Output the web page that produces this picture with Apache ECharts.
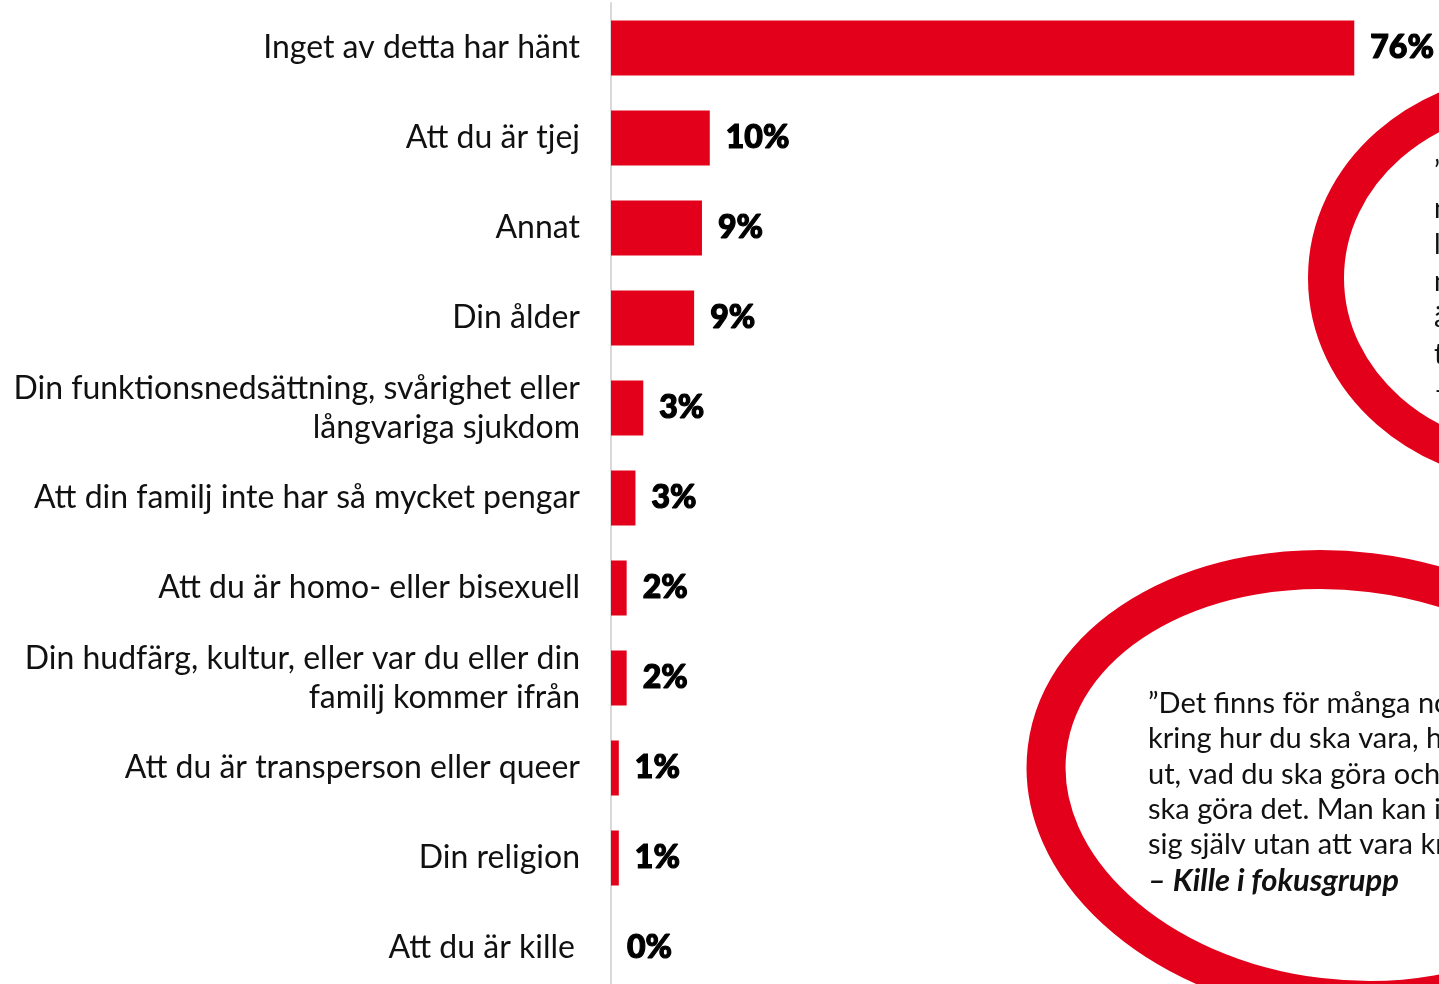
<!DOCTYPE html>
<html lang="sv">
<head>
    <meta charset="UTF-8">
    <title>Diskriminering</title>
    <script src="https://cdn.jsdelivr.net/npm/echarts@6/dist/echarts.min.js"></script>
    <style>
        html, body { margin: 0; padding: 0; background: #fff; }
        #chart { width: 1439px; height: 984px; }
    </style>
</head>
<body>
    <div id="chart"></div>
    <script>
        // data (top to bottom)
        var categories = [
            'Inget av detta har hänt',
            'Att du är tjej',
            'Annat',
            'Din ålder',
            'Din funktionsnedsättning, svårighet eller\nlångvariga sjukdom',
            'Att din familj inte har så mycket pengar',
            'Att du är homo- eller bisexuell',
            'Din hudfärg, kultur, eller var du eller din\nfamilj kommer ifrån',
            'Att du är transperson eller queer',
            'Din religion',
            'Att du är kille'
        ];
        var values = [76, 10.1, 9.3, 8.5, 3.3, 2.5, 1.6, 1.6, 0.8, 0.8, 0];
        var labels = ['76%', '10%', '9%', '9%', '3%', '3%', '2%', '2%', '1%', '1%', '0%'];

        var quoteLines = [
            '”Det finns för många normer',
            'kring hur du ska vara, hur du ska se',
            'ut, vad du ska göra och hur du',
            'ska göra det. Man kan inte vara',
            'sig själv utan att vara kritiserad.”'
        ];
        var quoteBy = '– Kille i fokusgrupp';
        var topQuoteLines = ['”', 'n', 'l', 'n', 'ä', 't', '–'];

        var red = '#e3001b';
        var chart = echarts.init(document.getElementById('chart'));

        var graphics = [
            {
                type: 'ellipse', z: 0,
                shape: { cx: 1540, cy: 278, rx: 214, ry: 188 },
                style: { fill: 'none', stroke: red, lineWidth: 36 }
            },
            {
                type: 'ellipse', z: 0,
                shape: { cx: 0, cy: 0, rx: 300, ry: 214 },
                x: 1345, y: 785, rotation: -0.12,
                style: { fill: 'none', stroke: red, lineWidth: 39 }
            }
        ];
        quoteLines.forEach(function (t, i) {
            graphics.push({
                type: 'text', z: 5, left: 1148, top: 689 + i * 35.4,
                style: { text: t, font: '29px Lato', fill: '#111' }
            });
        });
        graphics.push({
            type: 'text', z: 5, left: 1148, top: 865,
            style: { text: quoteBy, font: 'italic bold 31px Lato', fill: '#111' }
        });
        topQuoteLines.forEach(function (t, i) {
            graphics.push({
                type: 'text', z: 5, left: 1434, top: 158 + i * 36.5,
                style: { text: t, font: '28px Lato', fill: '#111' }
            });
        });

        chart.setOption({
            animation: false,
            grid: { left: 611, top: 3, width: 978, height: 990, outerBoundsMode: 'none', containLabel: false },
            xAxis: {
                type: 'value', min: 0, max: 100,
                show: false
            },
            yAxis: {
                type: 'category',
                inverse: true,
                data: categories,
                axisLine: { show: true, lineStyle: { color: '#d9d9d9', width: 2 } },
                axisTick: { show: false },
                axisLabel: {
                    margin: 31,
                    fontFamily: 'Lato',
                    fontSize: 32,
                    lineHeight: 39,
                    color: '#111',
                    align: 'right',
                    formatter: function (v, i) {
                        return i === categories.length - 1 ? '{k|' + v + '}' : v;
                    },
                    rich: {
                        k: { fontFamily: 'Lato', fontSize: 32, color: '#111', padding: [0, 5, 0, 0] }
                    }
                }
            },
            series: [{
                type: 'bar',
                data: values,
                barWidth: 55,
                itemStyle: { color: red },
                label: {
                    show: true,
                    position: 'right',
                    distance: 16,
                    fontFamily: 'Lato',
                    fontWeight: 900,
                    fontSize: 32,
                    color: '#000',
                    textBorderColor: '#000',
                    textBorderWidth: 1.2,
                    formatter: function (p) { return labels[p.dataIndex]; }
                }
            }],
            graphic: graphics
        });
    </script>
</body>
</html>
